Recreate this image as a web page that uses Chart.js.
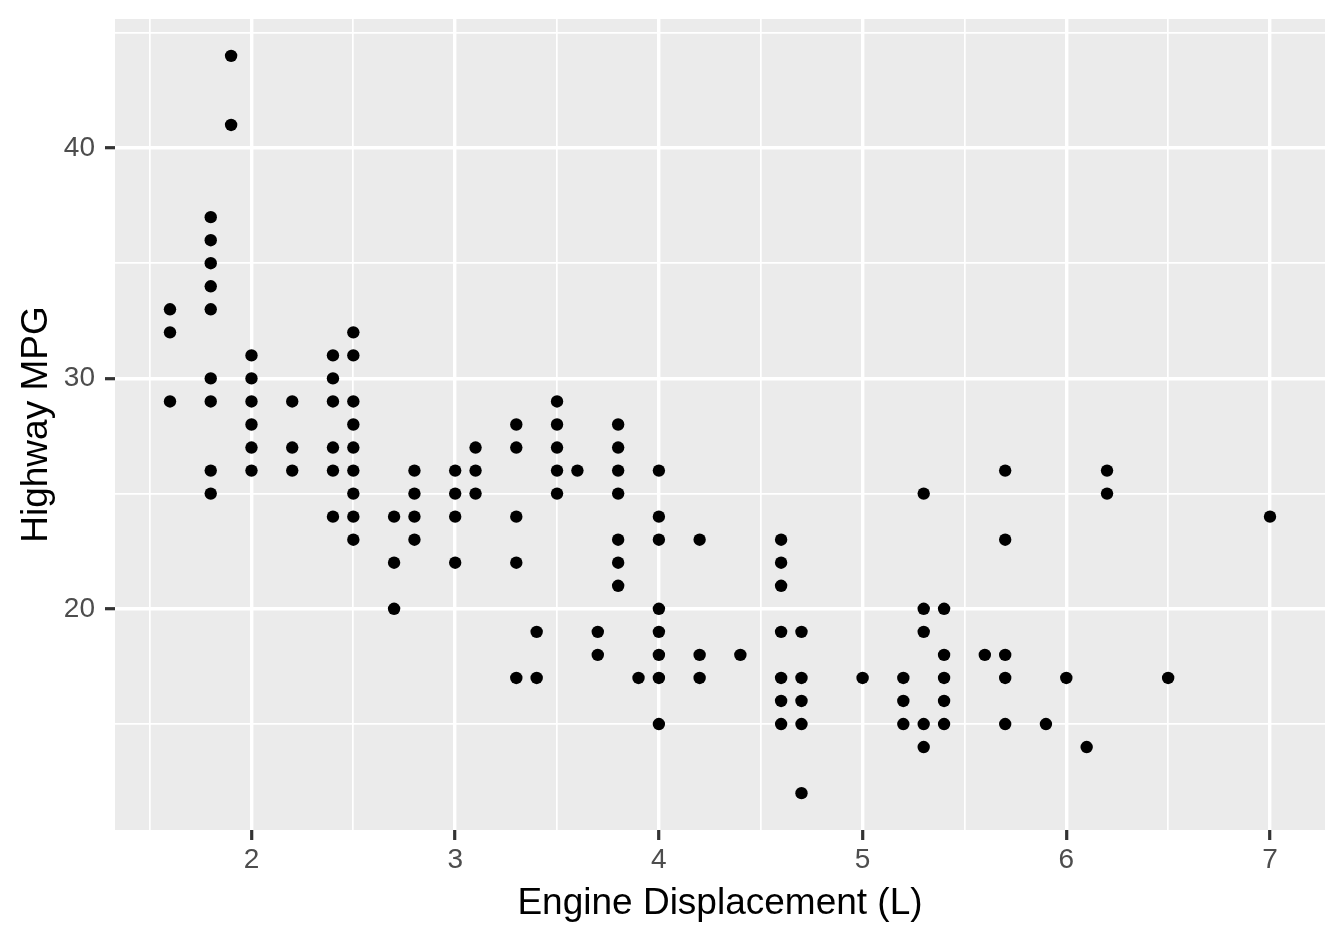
<!DOCTYPE html>
<html>
<head>
<meta charset="utf-8">
<script src="https://cdn.jsdelivr.net/npm/chart.js@4/dist/chart.umd.min.js"></script>
<style>
    html, body { margin: 0; padding: 0; background: #ffffff; }
    #wrap { width: 1344px; height: 940px; }
</style>
</head>
<body>
<div id="wrap"><canvas id="mpg" width="1344" height="940"></canvas></div>
<script>
// engine displacement (L) and highway mpg, one entry per distinct point
var displ = [
    1.6, 1.6, 1.6,
    1.8, 1.8, 1.8, 1.8, 1.8, 1.8, 1.8, 1.8, 1.8,
    1.9, 1.9,
    2.0, 2.0, 2.0, 2.0, 2.0, 2.0,
    2.2, 2.2, 2.2,
    2.4, 2.4, 2.4, 2.4, 2.4, 2.4,
    2.5, 2.5, 2.5, 2.5, 2.5, 2.5, 2.5, 2.5, 2.5,
    2.7, 2.7, 2.7,
    2.8, 2.8, 2.8, 2.8,
    3.0, 3.0, 3.0, 3.0,
    3.1, 3.1, 3.1,
    3.3, 3.3, 3.3, 3.3, 3.3,
    3.4, 3.4,
    3.5, 3.5, 3.5, 3.5, 3.5,
    3.6,
    3.7, 3.7,
    3.8, 3.8, 3.8, 3.8, 3.8, 3.8, 3.8,
    3.9,
    4.0, 4.0, 4.0, 4.0, 4.0, 4.0, 4.0, 4.0,
    4.2, 4.2, 4.2,
    4.4,
    4.6, 4.6, 4.6, 4.6, 4.6, 4.6, 4.6,
    4.7, 4.7, 4.7, 4.7, 4.7,
    5.0,
    5.2, 5.2, 5.2,
    5.3, 5.3, 5.3, 5.3, 5.3,
    5.4, 5.4, 5.4, 5.4, 5.4,
    5.6,
    5.7, 5.7, 5.7, 5.7, 5.7,
    5.9,
    6.0,
    6.1,
    6.2, 6.2,
    6.5,
    7.0
];
var hwy = [
    33, 32, 29,
    37, 36, 35, 34, 33, 30, 29, 26, 25,
    44, 41,
    31, 30, 29, 28, 27, 26,
    29, 27, 26,
    31, 30, 29, 27, 26, 24,
    32, 31, 29, 28, 27, 26, 25, 24, 23,
    24, 22, 20,
    26, 25, 24, 23,
    26, 25, 24, 22,
    27, 26, 25,
    28, 27, 24, 22, 17,
    19, 17,
    29, 28, 27, 26, 25,
    26,
    19, 18,
    28, 27, 26, 25, 23, 22, 21,
    17,
    26, 24, 23, 20, 19, 18, 17, 15,
    23, 18, 17,
    18,
    23, 22, 21, 19, 17, 16, 15,
    19, 17, 16, 15, 12,
    17,
    17, 16, 15,
    25, 20, 19, 15, 14,
    20, 18, 17, 16, 15,
    18,
    26, 23, 18, 17, 15,
    15,
    17,
    14,
    26, 25,
    17,
    24
];

var xMajor = [2, 3, 4, 5, 6, 7];
var xMinor = [1.5, 2.5, 3.5, 4.5, 5.5, 6.5];
var yMajor = [20, 30, 40];
var yMinor = [15, 25, 35, 45];

var points = displ.map((d, i) => ({x: d, y: hwy[i]}));

var isMajor = (axis, v) => (axis == 'x' ? xMajor : yMajor).some((m) => Math.abs(m - v) < 1e-9);
var allTicks = (major, minor) => major.concat(minor).sort((a, b) => a - b).map((v) => ({value: v}));

var panelBg = {
    id: 'panelBg',
    beforeDraw: (chart) => {
        let ctx = chart.ctx, a = chart.chartArea;
        ctx.save();
        ctx.fillStyle = '#ffffff';
        ctx.fillRect(0, 0, chart.width, chart.height);
        ctx.fillStyle = '#EBEBEB';
        ctx.fillRect(a.left, a.top, a.right - a.left, a.bottom - a.top);
        ctx.restore();
    }
};

var gridFor = (axis) => ({
    color: '#ffffff',
    lineWidth: (c) => c.tick && isMajor(axis, c.tick.value) ? 3.4 : 1.7,
    tickColor: (c) => c.tick && isMajor(axis, c.tick.value) ? '#333333' : 'rgba(0,0,0,0)',
    tickWidth: 3.2,
    tickLength: 10,
    drawTicks: true
});

var font = 'Liberation Sans, Arial, Helvetica, sans-serif';

new Chart(document.getElementById('mpg'), {
    type: 'scatter',
    data: {
        datasets: [{
            data: points,
            backgroundColor: '#000000',
            borderWidth: 0,
            pointRadius: 6.2,
            pointHoverRadius: 6.2
        }]
    },
    options: {
        responsive: false,
        animation: false,
        devicePixelRatio: 1,
        layout: {padding: {left: 0, top: 19, right: 19, bottom: 0}},
        plugins: {legend: {display: false}, tooltip: {enabled: false}},
        scales: {
            x: {
                type: 'linear',
                min: 1.33,
                max: 7.27,
                afterBuildTicks: (s) => { s.ticks = allTicks(xMajor, xMinor); },
                afterFit: (s) => { s.height = 110; s.paddingLeft = 0; s.paddingRight = 0; },
                grid: gridFor('x'),
                border: {display: false},
                ticks: {
                    color: '#4D4D4D',
                    font: {family: font, size: 28},
                    padding: 3,
                    maxRotation: 0,
                    autoSkip: false,
                    callback: (v) => isMajor('x', v) ? String(v) : ''
                },
                title: {
                    display: true,
                    text: 'Engine Displacement (L)',
                    color: '#000000',
                    font: {family: font, size: 37},
                    padding: {top: 0, bottom: 14}
                }
            },
            y: {
                type: 'linear',
                min: 10.4,
                max: 45.6,
                afterBuildTicks: (s) => { s.ticks = allTicks(yMajor, yMinor); },
                afterFit: (s) => { s.width = 115; s.paddingTop = 0; s.paddingBottom = 0; },
                grid: gridFor('y'),
                border: {display: false},
                ticks: {
                    color: '#4D4D4D',
                    font: {family: font, size: 28},
                    padding: 10,
                    autoSkip: false,
                    callback: (v) => isMajor('y', v) ? String(v) : ''
                },
                title: {
                    display: true,
                    text: 'Highway MPG',
                    color: '#000000',
                    font: {family: font, size: 37},
                    padding: {top: 15, bottom: 0}
                }
            }
        }
    },
    plugins: [panelBg]
});
</script>
</body>
</html>
